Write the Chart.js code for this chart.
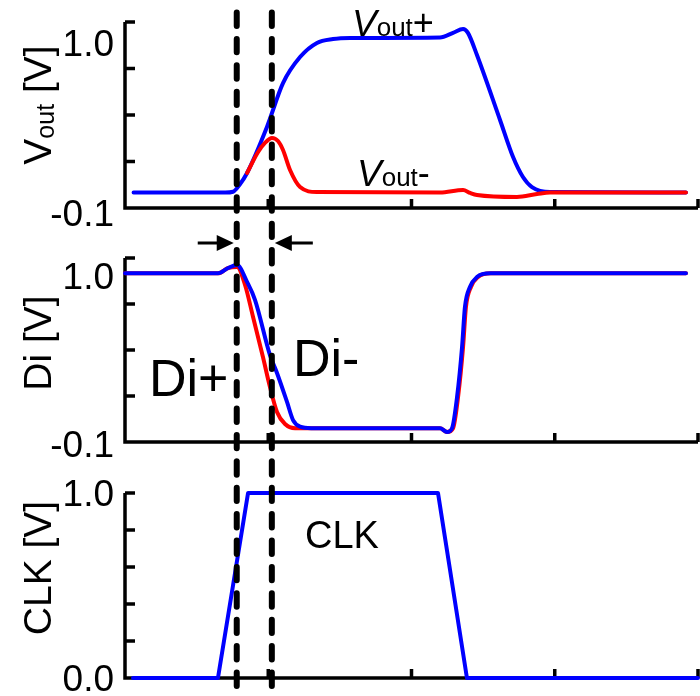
<!DOCTYPE html>
<html>
<head>
<meta charset="utf-8">
<script src="https://cdn.jsdelivr.net/npm/chart.js@4/dist/chart.umd.min.js"></script>
<style>
  body { margin: 0; background: #fff; }
  canvas { display: block; }
</style>
</head>
<body>
<canvas id="chart1" width="700" height="230"></canvas>
<canvas id="chart2" width="700" height="230"></canvas>
<canvas id="chart3" width="700" height="236"></canvas>
<script>
// time axis (arbitrary units), ticks shared by the three panels
const xTicks = [1, 2, 3, 4];
const markerX = [0.78, 1.025];

// Vout panel
const voutTicks = [-0.1, 0.2, 0.5, 0.8, 1.1];
const voutLabels = [-0.1, 1.0];
const voutPlusX = [0.06, 0.70, 0.754, 0.80, 0.852, 0.991, 1.103, 1.222, 1.340, 1.452, 1.571, 2.199, 2.29, 2.36, 2.394, 2.457, 2.618, 2.709, 2.778, 2.841, 2.967, 3.916];
const voutPlusY = [0.0, 0.0, 0.005, 0.05, 0.126, 0.423, 0.706, 0.874, 0.965, 0.99, 0.997, 1.0, 1.03, 1.055, 1.03, 0.887, 0.468, 0.229, 0.1, 0.035, 0.003, 0.0];
const voutMinusX = [0.852, 0.928, 0.977, 1.026, 1.068, 1.103, 1.152, 1.222, 1.340, 2.199, 2.36, 2.41, 2.457, 2.736, 2.876, 2.967, 3.916];
const voutMinusY = [0.126, 0.26, 0.32, 0.352, 0.332, 0.274, 0.145, 0.035, 0.003, 0.0, 0.016, -0.003, -0.016, -0.029, -0.01, 0.0, 0.0];

// Di panel
const diTicks = [-0.1, 0.2, 0.5, 0.8, 1.1];
const diLabels = [-0.1, 1.0];
const diPlusX = [0.0, 0.649, 0.72, 0.782, 0.852, 0.908, 1.012, 1.061, 1.131, 1.173, 1.222, 1.30, 2.199, 2.248, 2.283, 2.318, 2.353, 2.373, 2.408, 2.457, 2.548, 3.916];
const diPlusY = [1.0, 1.0, 1.035, 1.054, 0.944, 0.826, 0.467, 0.35, 0.161, 0.043, 0.0, -0.01, -0.01, -0.035, -0.01, 0.193, 0.52, 0.78, 0.911, 0.976, 1.0, 1.0];
const diMinusX = [0.0, 0.649, 0.72, 0.782, 0.838, 0.894, 0.963, 1.012, 1.061, 1.117, 1.187, 2.199, 2.248, 2.29, 2.325, 2.36, 2.38, 2.415, 2.465, 2.555, 3.916];
const diMinusY = [1.0, 1.0, 1.035, 1.041, 0.924, 0.715, 0.454, 0.259, 0.096, 0.017, -0.01, -0.01, -0.035, -0.01, 0.193, 0.52, 0.78, 0.911, 0.976, 1.0, 1.0];

// CLK panel
const clkTicks = [0, 0.2, 0.4, 0.6, 0.8, 1.0];
const clkLabels = [0.0, 1.0];
const clkX = [0.056, 0.649, 0.859, 2.185, 2.387, 4.0];
const clkY = [0, 0, 1, 1, 0, 0];

const BLUE = '#0000ff';
const RED = '#ff0000';
const FONT = '"Liberation Sans", Arial, sans-serif';

function pts(xs, ys) {
  return xs.map((x, i) => ({ x: x, y: ys[i] }));
}

function line(xs, ys, color, smooth, order) {
  return {
    data: pts(xs, ys),
    borderColor: color,
    borderWidth: 4,
    pointRadius: 0,
    fill: false,
    order: order,
    tension: smooth ? 0.4 : 0,
    cubicInterpolationMode: smooth ? 'monotone' : 'default',
    borderJoinStyle: 'round',
    borderCapStyle: 'round',
    clip: false
  };
}

// text made of pieces with different fonts (for subscripts)
function richWidth(ctx, parts) {
  let w = 0;
  parts.forEach(p => { ctx.font = p.font; w += ctx.measureText(p.t).width; });
  return w;
}
function drawRich(ctx, parts, x, y) {
  let cx = x;
  parts.forEach(p => {
    ctx.font = p.font;
    ctx.fillText(p.t, cx, y + (p.dy || 0));
    cx += ctx.measureText(p.t).width;
  });
}

function framePlugin(cfg) {
  return {
    id: 'frame',
    beforeDatasetsDraw(chart) {
      const ctx = chart.ctx;
      const a = chart.chartArea;
      const xs = chart.scales.x, ys = chart.scales.y;
      ctx.save();
      ctx.strokeStyle = '#000';
      ctx.fillStyle = '#000';
      ctx.lineWidth = 3.5;
      ctx.beginPath();
      ctx.moveTo(a.left, a.top);
      ctx.lineTo(a.left, a.bottom);
      ctx.lineTo(a.right, a.bottom);
      cfg.yTicks.forEach(v => {
        const py = ys.getPixelForValue(v);
        ctx.moveTo(a.left, py);
        ctx.lineTo(a.left + 10, py);
      });
      xTicks.forEach(v => {
        const px = xs.getPixelForValue(v);
        ctx.moveTo(px, a.bottom);
        ctx.lineTo(px, a.bottom - 9);
      });
      ctx.stroke();

      // tick labels
      ctx.font = '37px ' + FONT;
      ctx.textAlign = 'right';
      ctx.textBaseline = 'middle';
      cfg.yLabels.forEach(v => {
        ctx.fillText(v.toFixed(1), a.left - 11, ys.getPixelForValue(v) + cfg.labelShift);
      });

      // axis title, rotated
      ctx.textAlign = 'left';
      ctx.textBaseline = 'alphabetic';
      ctx.translate(37, cfg.titleY);
      ctx.rotate(-Math.PI / 2);
      const w = richWidth(ctx, cfg.title);
      drawRich(ctx, cfg.title, -w / 2, 14);
      ctx.restore();
    },
    afterDatasetsDraw(chart) {
      const ctx = chart.ctx;
      const xs = chart.scales.x;
      ctx.save();
      // dashed markers, continuous across the three canvases
      ctx.strokeStyle = '#000';
      ctx.lineWidth = 6;
      ctx.lineCap = 'round';
      ctx.setLineDash([13.4, 13]);
      markerX.forEach(v => {
        const px = xs.getPixelForValue(v);
        ctx.beginPath();
        ctx.moveTo(px, 12.5 - cfg.pageTop);
        ctx.lineTo(px, chart.height + 10);
        ctx.stroke();
      });
      ctx.setLineDash([]);

      ctx.fillStyle = '#000';
      ctx.textAlign = 'left';
      ctx.textBaseline = 'alphabetic';
      cfg.notes.forEach(n => drawRich(ctx, n.parts, n.x, n.y));

      if (cfg.arrows) {
        const y = cfg.arrows;
        const l = xs.getPixelForValue(markerX[0]) - 3;
        const r = xs.getPixelForValue(markerX[1]) + 3;
        ctx.lineWidth = 3;
        ctx.lineCap = 'butt';
        ctx.beginPath();
        ctx.moveTo(l - 36, y); ctx.lineTo(l - 10, y);
        ctx.moveTo(r + 10, y); ctx.lineTo(r + 38, y);
        ctx.stroke();
        ctx.beginPath();
        ctx.moveTo(l, y); ctx.lineTo(l - 17, y - 8); ctx.lineTo(l - 17, y + 8); ctx.closePath();
        ctx.moveTo(r, y); ctx.lineTo(r + 17, y - 8); ctx.lineTo(r + 17, y + 8); ctx.closePath();
        ctx.fill();
      }
      ctx.restore();
    }
  };
}

function makeChart(id, datasets, yMin, yMax, cfg) {
  return new Chart(document.getElementById(id), {
    type: 'line',
    data: { datasets: datasets },
    options: {
      responsive: false,
      animation: false,
      events: [],
      layout: { padding: cfg.padding },
      plugins: { legend: { display: false }, tooltip: { enabled: false } },
      scales: {
        x: { type: 'linear', min: 0, max: 4, display: false },
        y: { type: 'linear', min: yMin, max: yMax, display: false }
      }
    },
    plugins: [framePlugin(cfg)]
  });
}

const big = sz => sz + 'px ' + FONT;
const ital = sz => 'italic ' + sz + 'px ' + FONT;

// lower order is drawn on top
makeChart('chart1', [
  line(voutMinusX, voutMinusY, RED, true, 0),
  line(voutPlusX, voutPlusY, BLUE, true, 1)
], -0.1, 1.1, {
  padding: { left: 125, right: 2, top: 22, bottom: 22 },
  pageTop: 0,
  yTicks: voutTicks,
  yLabels: voutLabels,
  labelShift: 8,
  titleY: 105,
  title: [{ t: 'V', font: big(39) }, { t: 'out', font: big(25), dy: 3 }, { t: ' [V]', font: big(39) }],
  notes: [
    { x: 352, y: 36, parts: [{ t: 'V', font: ital(37) }, { t: 'out', font: big(26) }, { t: '+', font: big(36), dy: -1 }] },
    { x: 357, y: 186, parts: [{ t: 'V', font: ital(37) }, { t: 'out', font: big(26) }, { t: '-', font: big(36), dy: -1 }] }
  ]
});

makeChart('chart2', [
  line(diPlusX, diPlusY, BLUE, true, 0),
  line(diMinusX, diMinusY, RED, true, 1)
], -0.1, 1.1, {
  padding: { left: 125, right: 2, top: 28, bottom: 18 },
  pageTop: 230,
  yTicks: diTicks,
  yLabels: diLabels,
  labelShift: 5,
  titleY: 113,
  title: [{ t: 'Di [V]', font: big(39) }],
  notes: [
    { x: 149, y: 166, parts: [{ t: 'Di+', font: big(52) }] },
    { x: 293, y: 146, parts: [{ t: 'Di-', font: big(52) }] }
  ],
  arrows: 13
});

makeChart('chart3', [
  line(clkX, clkY, BLUE, false, 0)
], 0, 1, {
  padding: { left: 125, right: 2, top: 33, bottom: 18 },
  pageTop: 460,
  yTicks: clkTicks,
  yLabels: clkLabels,
  labelShift: 3,
  titleY: 108,
  title: [{ t: 'CLK [V]', font: big(39) }],
  notes: [
    { x: 305, y: 88, parts: [{ t: 'CLK', font: big(38) }] }
  ]
});
</script>
</body>
</html>
